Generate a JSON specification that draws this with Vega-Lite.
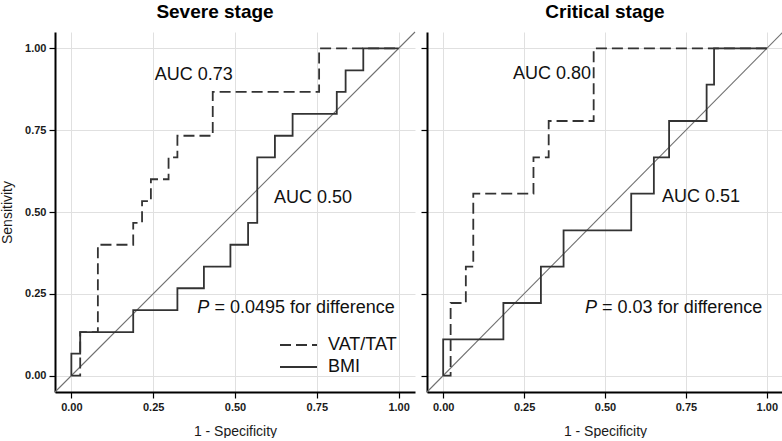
{
  "$schema": "https://vega.github.io/schema/vega-lite/v6.json",
  "background": "white",
  "padding": {"left": 0, "top": 3, "right": 0, "bottom": 0},
  "spacing": 4,
  "datasets": {
    "roc": [
      {"panel": "Severe", "series": "VAT/TAT", "i": 0, "x": 0, "y": 0},
      {"panel": "Severe", "series": "VAT/TAT", "i": 1, "x": 0.027, "y": 0.133},
      {"panel": "Severe", "series": "VAT/TAT", "i": 2, "x": 0.081, "y": 0.4},
      {"panel": "Severe", "series": "VAT/TAT", "i": 3, "x": 0.189, "y": 0.467},
      {"panel": "Severe", "series": "VAT/TAT", "i": 4, "x": 0.216, "y": 0.533},
      {"panel": "Severe", "series": "VAT/TAT", "i": 5, "x": 0.243, "y": 0.6},
      {"panel": "Severe", "series": "VAT/TAT", "i": 6, "x": 0.297, "y": 0.667},
      {"panel": "Severe", "series": "VAT/TAT", "i": 7, "x": 0.324, "y": 0.733},
      {"panel": "Severe", "series": "VAT/TAT", "i": 8, "x": 0.432, "y": 0.867},
      {"panel": "Severe", "series": "VAT/TAT", "i": 9, "x": 0.757, "y": 1},
      {"panel": "Severe", "series": "VAT/TAT", "i": 10, "x": 1, "y": 1},
      {"panel": "Severe", "series": "BMI", "i": 0, "x": 0, "y": 0},
      {"panel": "Severe", "series": "BMI", "i": 1, "x": 0, "y": 0.067},
      {"panel": "Severe", "series": "BMI", "i": 2, "x": 0.027, "y": 0.133},
      {"panel": "Severe", "series": "BMI", "i": 3, "x": 0.189, "y": 0.2},
      {"panel": "Severe", "series": "BMI", "i": 4, "x": 0.324, "y": 0.267},
      {"panel": "Severe", "series": "BMI", "i": 5, "x": 0.405, "y": 0.333},
      {"panel": "Severe", "series": "BMI", "i": 6, "x": 0.486, "y": 0.4},
      {"panel": "Severe", "series": "BMI", "i": 7, "x": 0.54, "y": 0.467},
      {"panel": "Severe", "series": "BMI", "i": 8, "x": 0.568, "y": 0.667},
      {"panel": "Severe", "series": "BMI", "i": 9, "x": 0.622, "y": 0.733},
      {"panel": "Severe", "series": "BMI", "i": 10, "x": 0.676, "y": 0.8},
      {"panel": "Severe", "series": "BMI", "i": 11, "x": 0.811, "y": 0.867},
      {"panel": "Severe", "series": "BMI", "i": 12, "x": 0.838, "y": 0.933},
      {"panel": "Severe", "series": "BMI", "i": 13, "x": 0.892, "y": 1},
      {"panel": "Severe", "series": "BMI", "i": 14, "x": 1, "y": 1},
      {"panel": "Critical", "series": "VAT/TAT", "i": 0, "x": 0, "y": 0},
      {"panel": "Critical", "series": "VAT/TAT", "i": 1, "x": 0.023, "y": 0.222},
      {"panel": "Critical", "series": "VAT/TAT", "i": 2, "x": 0.07, "y": 0.333},
      {"panel": "Critical", "series": "VAT/TAT", "i": 3, "x": 0.093, "y": 0.556},
      {"panel": "Critical", "series": "VAT/TAT", "i": 4, "x": 0.279, "y": 0.667},
      {"panel": "Critical", "series": "VAT/TAT", "i": 5, "x": 0.326, "y": 0.778},
      {"panel": "Critical", "series": "VAT/TAT", "i": 6, "x": 0.465, "y": 1},
      {"panel": "Critical", "series": "VAT/TAT", "i": 7, "x": 1, "y": 1},
      {"panel": "Critical", "series": "BMI", "i": 0, "x": 0, "y": 0},
      {"panel": "Critical", "series": "BMI", "i": 1, "x": 0, "y": 0.111},
      {"panel": "Critical", "series": "BMI", "i": 2, "x": 0.186, "y": 0.222},
      {"panel": "Critical", "series": "BMI", "i": 3, "x": 0.302, "y": 0.333},
      {"panel": "Critical", "series": "BMI", "i": 4, "x": 0.372, "y": 0.444},
      {"panel": "Critical", "series": "BMI", "i": 5, "x": 0.581, "y": 0.556},
      {"panel": "Critical", "series": "BMI", "i": 6, "x": 0.651, "y": 0.667},
      {"panel": "Critical", "series": "BMI", "i": 7, "x": 0.698, "y": 0.778},
      {"panel": "Critical", "series": "BMI", "i": 8, "x": 0.814, "y": 0.889},
      {"panel": "Critical", "series": "BMI", "i": 9, "x": 0.837, "y": 1},
      {"panel": "Critical", "series": "BMI", "i": 10, "x": 1, "y": 1}
    ],
    "diag": [
      {"x": -0.05, "y": -0.05, "x2": 1.05, "y2": 1.05}
    ],
    "notes": [
      {"panel": "Severe", "kind": "plain", "x": 0.255, "y": 0.918, "text": "AUC 0.73"},
      {"panel": "Severe", "kind": "plain", "x": 0.619, "y": 0.544, "text": "AUC 0.50"},
      {"panel": "Severe", "kind": "italic", "x": 0.385, "y": 0.207, "text": "P"},
      {"panel": "Severe", "kind": "plain", "x": 0.437, "y": 0.207, "text": "= 0.0495 for difference"},
      {"panel": "Critical", "kind": "plain", "x": 0.216, "y": 0.921, "text": "AUC 0.80"},
      {"panel": "Critical", "kind": "plain", "x": 0.676, "y": 0.547, "text": "AUC 0.51"},
      {"panel": "Critical", "kind": "italic", "x": 0.4385, "y": 0.207, "text": "P"},
      {"panel": "Critical", "kind": "plain", "x": 0.491, "y": 0.207, "text": "= 0.03 for difference"}
    ]
  },
  "hconcat": [
    {
      "width": 360,
      "height": 360,
      "title": {"text": "Severe stage", "anchor": "middle", "frame": "group", "dx": -20, "offset": 9},
      "encoding": {
        "x": {"field": "x", "type": "quantitative", "scale": {"domain": [-0.05, 1.05], "nice": false, "zero": false},
              "axis": {"values": [0, 0.25, 0.5, 0.75, 1], "format": ".2f", "title": "1 - Specificity", "titlePadding": 12, "labelPadding": 3}},
        "y": {"field": "y", "type": "quantitative", "scale": {"domain": [-0.05, 1.05], "nice": false, "zero": false},
              "axis": {"values": [0, 0.25, 0.5, 0.75, 1], "format": ".2f", "title": "Sensitivity", "titlePadding": 10, "labelPadding": 3}}
      },
      "layer": [
        {
          "data": {"name": "diag"},
          "mark": {"type": "rule", "color": "#707070", "strokeWidth": 1.1},
          "encoding": {"x2": {"field": "x2"}, "y2": {"field": "y2"}}
        },
        {
          "data": {"name": "roc"},
          "transform": [{"filter": "datum.panel === 'Severe'"}],
          "mark": {"type": "line", "interpolate": "step-after", "color": "#333333", "strokeWidth": 1.8},
          "encoding": {
            "detail": {"field": "series"},
            "order": {"field": "i", "type": "quantitative"},
            "strokeDash": {"field": "series", "type": "nominal",
              "scale": {"domain": ["VAT/TAT", "BMI"], "range": [[11, 5], [1, 0]]},
              "legend": {"orient": "none", "legendX": 224, "legendY": 302, "title": null, "symbolType": "stroke", "symbolSize": 1369,
                         "symbolStrokeColor": "#333333", "symbolStrokeWidth": 1.8, "labelFontSize": 18, "labelFont": "Liberation Sans",
                         "labelColor": "#111111", "labelOffset": 10, "rowPadding": 0, "clipHeight": 22}}
          }
        },
        {
          "data": {"name": "notes"},
          "transform": [{"filter": "datum.panel === 'Severe' && datum.kind === 'plain'"}],
          "mark": {"type": "text", "align": "left", "baseline": "middle", "font": "Liberation Sans", "fontSize": 18, "color": "#111111"},
          "encoding": {"text": {"field": "text"}}
        },
        {
          "data": {"name": "notes"},
          "transform": [{"filter": "datum.panel === 'Severe' && datum.kind === 'italic'"}],
          "mark": {"type": "text", "align": "left", "baseline": "middle", "font": "Liberation Sans", "fontSize": 18, "fontStyle": "italic", "color": "#111111"},
          "encoding": {"text": {"field": "text"}}
        }
      ]
    },
    {
      "width": 356,
      "height": 360,
      "title": {"text": "Critical stage", "anchor": "middle", "frame": "group", "offset": 9},
      "encoding": {
        "x": {"field": "x", "type": "quantitative", "scale": {"domain": [-0.05, 1.05], "nice": false, "zero": false},
              "axis": {"values": [0, 0.25, 0.5, 0.75, 1], "format": ".2f", "title": "1 - Specificity", "titlePadding": 12, "labelPadding": 3}},
        "y": {"field": "y", "type": "quantitative", "scale": {"domain": [-0.05, 1.05], "nice": false, "zero": false},
              "axis": {"values": [0, 0.25, 0.5, 0.75, 1], "labels": false, "title": null}}
      },
      "layer": [
        {
          "data": {"name": "diag"},
          "mark": {"type": "rule", "color": "#707070", "strokeWidth": 1.1},
          "encoding": {"x2": {"field": "x2"}, "y2": {"field": "y2"}}
        },
        {
          "data": {"name": "roc"},
          "transform": [{"filter": "datum.panel === 'Critical'"}],
          "mark": {"type": "line", "interpolate": "step-after", "color": "#333333", "strokeWidth": 1.8},
          "encoding": {
            "detail": {"field": "series"},
            "order": {"field": "i", "type": "quantitative"},
            "strokeDash": {"field": "series", "type": "nominal",
              "scale": {"domain": ["VAT/TAT", "BMI"], "range": [[11, 5], [1, 0]]},
              "legend": null}
          }
        },
        {
          "data": {"name": "notes"},
          "transform": [{"filter": "datum.panel === 'Critical' && datum.kind === 'plain'"}],
          "mark": {"type": "text", "align": "left", "baseline": "middle", "font": "Liberation Sans", "fontSize": 18, "color": "#111111"},
          "encoding": {"text": {"field": "text"}}
        },
        {
          "data": {"name": "notes"},
          "transform": [{"filter": "datum.panel === 'Critical' && datum.kind === 'italic'"}],
          "mark": {"type": "text", "align": "left", "baseline": "middle", "font": "Liberation Sans", "fontSize": 18, "fontStyle": "italic", "color": "#111111"},
          "encoding": {"text": {"field": "text"}}
        }
      ]
    }
  ],
  "resolve": {"legend": {"strokeDash": "independent"}},
  "config": {
    "view": {"stroke": null},
    "font": "Liberation Sans",
    "title": {"font": "Liberation Sans", "fontSize": 19, "fontWeight": "bold", "color": "#000000"},
    "axis": {
      "domainColor": "#000000", "domainWidth": 2,
      "tickColor": "#000000", "tickWidth": 1.2, "tickSize": 6,
      "labelFont": "Liberation Sans", "labelFontSize": 11, "labelFontWeight": "bold", "labelColor": "#1a1a1a",
      "gridColor": "#e0e0e0", "gridWidth": 1,
      "titleFont": "Liberation Sans", "titleFontSize": 14, "titleFontWeight": "normal", "titleColor": "#1a1a1a"
    }
  }
}
